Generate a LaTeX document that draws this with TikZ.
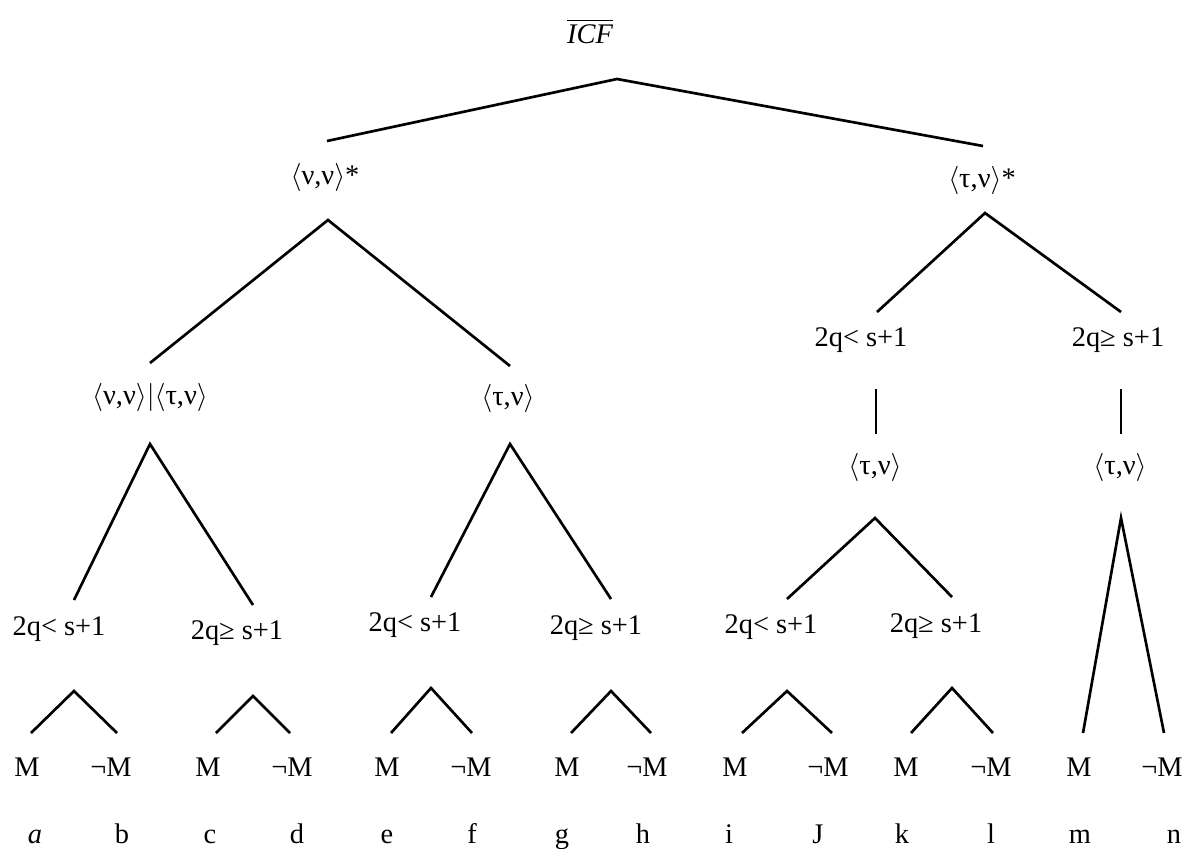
\documentclass[tikz,border=0pt]{standalone}
\usepackage{fontspec}
\setmainfont{Liberation Serif}

\newcommand{\ang}[1]{$\langle$#1$\rangle$}
\tikzset{
  lab/.style={inner sep=0pt, font=\fontsize{10.1}{12}\selectfont},
  br/.style={line width=0.95pt},
}

\begin{document}
\begin{tikzpicture}[x=0.0125cm, y=-0.0125cm, every node/.style={lab}]
		\useasboundingbox (0,0) rectangle (1189,848);

		% Labels
		\node (icf) at (590,31) {$\overline{\mbox{\itshape ICF}}$};
		\node (nn) at (325,177) {\ang{ν,ν}*};
		\node (tn) at (982,180) {\ang{τ,ν}*};
		\node (nt) at (150,397) {\ang{ν,ν}$|$\ang{τ,ν}};
		\node (tv1) at (508,398) {\ang{τ,ν}};
		\node (lt5) at (861,340) {2q< s+1};
		\node (ge6) at (1118,340) {2q≥ s+1};
		\node (tv2) at (875,467) {\ang{τ,ν}};
		\node (tv3) at (1120,467) {\ang{τ,ν}};
		\node (lt1) at (59,629) {2q< s+1};
		\node (ge2) at (237,633) {2q≥ s+1};
		\node (lt3) at (415,625) {2q< s+1};
		\node (ge4) at (596,628) {2q≥ s+1};
		\node (lt7) at (771,627) {2q< s+1};
		\node (ge8) at (936,626) {2q≥ s+1};

		% Leaves
		\foreach \x/\t [count=\i] in {27/M,111/¬M,208/M,292/¬M,387/M,471/¬M,567/M,647/¬M,735/M,828/¬M,906/M,991/¬M,1079/M,1162/¬M}
			\node[anchor=base] (leaf\i) at (\x,776) {\t};
		\foreach \x/\t [count=\i] in {35/\textit{a},122/b,210/c,297/d,387/e,472/f,562/g,643/h,729/i,818/J,902/k,991/l,1080/m,1174/n}
			\node[anchor=base] (case\i) at (\x,843) {\t};

		% Branch points
		\coordinate (r0) at (617,79);   \coordinate (r0l) at (327,141);  \coordinate (r0r) at (983,146);
		\coordinate (b1) at (328,220);  \coordinate (b1l) at (150,363);  \coordinate (b1r) at (510,366);
		\coordinate (b2) at (985,213);  \coordinate (b2l) at (877,312);  \coordinate (b2r) at (1121,312);
		\coordinate (v1t) at (876,389); \coordinate (v1b) at (876,434);
		\coordinate (v2t) at (1121,389);\coordinate (v2b) at (1121,434);
		\coordinate (b3) at (150,444);  \coordinate (b3l) at (74,600);   \coordinate (b3r) at (253,605);
		\coordinate (b4) at (510,444);  \coordinate (b4l) at (431,597);  \coordinate (b4r) at (611,599);
		\coordinate (b5) at (875,518);  \coordinate (b5l) at (787,599);  \coordinate (b5r) at (952,597);
		\coordinate (b6) at (1121,518); \coordinate (b6l) at (1083,733); \coordinate (b6r) at (1164,733);
		\coordinate (s1) at (74,691);   \coordinate (s1l) at (31,733);   \coordinate (s1r) at (117,733);
		\coordinate (s2) at (253,696);  \coordinate (s2l) at (216,733);  \coordinate (s2r) at (290,733);
		\coordinate (s3) at (431,688);  \coordinate (s3l) at (391,733);  \coordinate (s3r) at (472,733);
		\coordinate (s4) at (611,691);  \coordinate (s4l) at (571,733);  \coordinate (s4r) at (651,733);
		\coordinate (s5) at (787,691);  \coordinate (s5l) at (742,733);  \coordinate (s5r) at (832,733);
		\coordinate (s6) at (952,688);  \coordinate (s6l) at (911,733);  \coordinate (s6r) at (993,733);

		% Branches
		\draw[br] (r0l) -- (r0) -- (r0r);
		\draw[br] (b1l) -- (b1) -- (b1r);
		\draw[br] (b2l) -- (b2) -- (b2r);
		\draw[br] (v1t) -- (v1b);
		\draw[br] (v2t) -- (v2b);
		\draw[br] (b3l) -- (b3) -- (b3r);
		\draw[br] (b4l) -- (b4) -- (b4r);
		\draw[br] (b5l) -- (b5) -- (b5r);
		\draw[br] (b6l) -- (b6) -- (b6r);

		% Small forks
		\draw[br] (s1l) -- (s1) -- (s1r);
		\draw[br] (s2l) -- (s2) -- (s2r);
		\draw[br] (s3l) -- (s3) -- (s3r);
		\draw[br] (s4l) -- (s4) -- (s4r);
		\draw[br] (s5l) -- (s5) -- (s5r);
		\draw[br] (s6l) -- (s6) -- (s6r);
	\end{tikzpicture}
\end{document}
